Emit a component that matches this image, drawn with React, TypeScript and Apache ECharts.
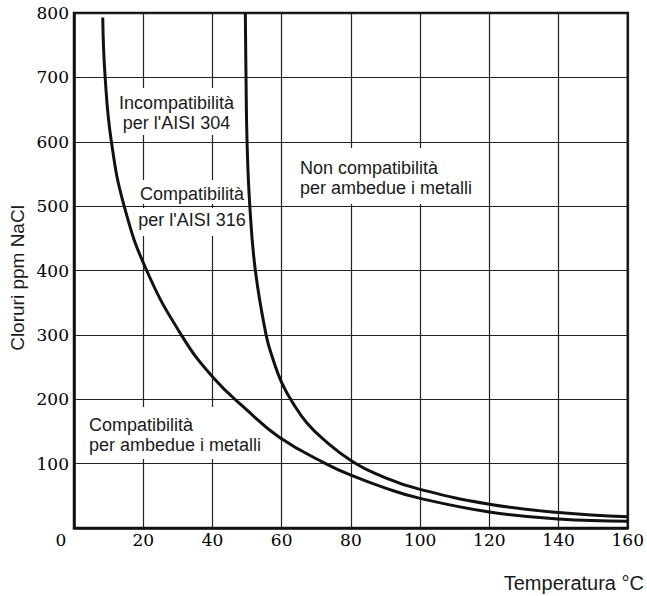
import React, { useEffect, useRef } from "react";
import * as echarts from "echarts";

// Limit curve for AISI 304 (left curve): [temperature °C, chlorides ppm NaCl]
const curve304: number[][] = [
  [8.3, 793], [9, 700], [10.8, 600], [14.5, 500], [21, 400], [31, 300],
  [40, 235], [50, 183], [59.3, 141], [72.7, 100], [80, 82], [90, 62], [100, 46],
  [120, 25], [140, 14], [160, 10.5],
];

// Limit curve for AISI 316 (right curve)
const curve316: number[][] = [
  [49.5, 800], [49.7, 700], [50, 600], [50.8, 500], [52.4, 400], [55.5, 300],
  [57.5, 262], [60, 226], [63.5, 192], [67.3, 163], [72, 138], [80, 105],
  [90, 78], [100, 60], [120, 37], [140, 24], [160, 17.5],
];

const xMin = 0;
const xMax = 160;
const xStep = 20;
const yMin = 0;
const yMax = 800;
const yStep = 100;

const yAxisTitle = "Cloruri ppm NaCl";
const xAxisTitle = "Temperatura °C";

const note304 = ["Incompatibilità", "per l'AISI 304"];
const note316 = ["Compatibilità", "per l'AISI 316"];
const noteNone = ["Non compatibilità", "per ambedue i metalli"];
const noteBoth = ["Compatibilità", "per ambedue i metalli"];

const SANS = '"Liberation Sans", Arial, sans-serif';
const SERIF = '"DejaVu Serif", serif';

export default function App() {
  const ref = useRef<HTMLDivElement>(null);

  useEffect(() => {
    document.body.style.margin = "0";
    if (!ref.current) return;
    const chart = echarts.init(ref.current, undefined, { renderer: "svg" });

    const noteStyle = {
      font: `18px ${SANS}`,
      fill: "#1a1a1a",
      backgroundColor: "#fff",
      lineHeight: 20,
    };

    chart.setOption({
      animation: false,
      backgroundColor: "#fff",
      grid: {
        left: 74,
        right: 17,
        top: 13,
        bottom: 68,
        show: true,
        borderColor: "#111",
        borderWidth: 2.5,
        backgroundColor: "transparent",
      },
      xAxis: {
        type: "value",
        min: xMin,
        max: xMax,
        interval: xStep,
        axisLine: { show: true, lineStyle: { color: "#111", width: 2.5 } },
        axisTick: { show: false },
        splitLine: { show: true, lineStyle: { color: "#222", width: 1.2 } },
        axisLabel: {
          margin: 3,
          color: "#000",
          fontFamily: SERIF,
          fontSize: 17,
          formatter: (v: number) => (v === 0 ? "{z|0}" : String(v)),
          rich: {
            z: { padding: [0, 26, 0, 0], fontFamily: SERIF, fontSize: 17, color: "#000" },
          },
        },
      },
      yAxis: {
        type: "value",
        min: yMin,
        max: yMax,
        interval: yStep,
        axisLine: { show: true, lineStyle: { color: "#111", width: 2.5 } },
        axisTick: { show: false },
        splitLine: { show: true, lineStyle: { color: "#222", width: 1.2 } },
        axisLabel: {
          margin: 5,
          color: "#000",
          fontFamily: SERIF,
          fontSize: 17,
          showMinLabel: false,
          padding: [5, 0, 0, 0],
        },
      },
      series: [
        {
          type: "line",
          data: curve304,
          showSymbol: false,
          smooth: 0.45,
          lineStyle: { color: "#111", width: 3 },
          z: 3,
        },
        {
          type: "line",
          data: curve316,
          showSymbol: false,
          smooth: 0.45,
          lineStyle: { color: "#111", width: 3 },
          z: 3,
        },
      ],
      graphic: [
        {
          type: "text",
          x: 17,
          y: 278,
          rotation: Math.PI / 2,
          style: {
            text: yAxisTitle,
            font: `19px ${SANS}`,
            fill: "#1a1a1a",
            align: "center",
            verticalAlign: "middle",
          },
        },
        {
          type: "text",
          x: 644,
          y: 583,
          style: {
            text: xAxisTitle,
            font: `20px ${SANS}`,
            fill: "#1a1a1a",
            align: "right",
            verticalAlign: "middle",
          },
        },
        {
          type: "text",
          x: 176.5,
          y: 88,
          z: 1,
          style: { ...noteStyle, text: note304.join("\n"), align: "center", verticalAlign: "top", padding: [5, 4, 2, 4] },
        },
        {
          type: "text",
          x: 192,
          y: 180,
          z: 1,
          style: { ...noteStyle, text: note316[0], align: "center", verticalAlign: "top", padding: [4, 4, 0, 4] },
        },
        {
          type: "text",
          x: 192,
          y: 208,
          z: 1,
          style: { ...noteStyle, text: note316[1], align: "center", verticalAlign: "top", padding: [2, 4, 6, 4] },
        },
        {
          type: "text",
          x: 296,
          y: 148,
          z: 1,
          style: { ...noteStyle, text: noteNone.join("\n"), align: "left", verticalAlign: "top", padding: [10, 4, 6, 4] },
        },
        {
          type: "text",
          x: 85,
          y: 407,
          z: 1,
          style: { ...noteStyle, text: noteBoth.join("\n"), align: "left", verticalAlign: "top", padding: [8, 4, 4, 4] },
        },
      ],
    });

    return () => chart.dispose();
  }, []);

  return <div ref={ref} style={{ width: 647, height: 596 }} />;
}
